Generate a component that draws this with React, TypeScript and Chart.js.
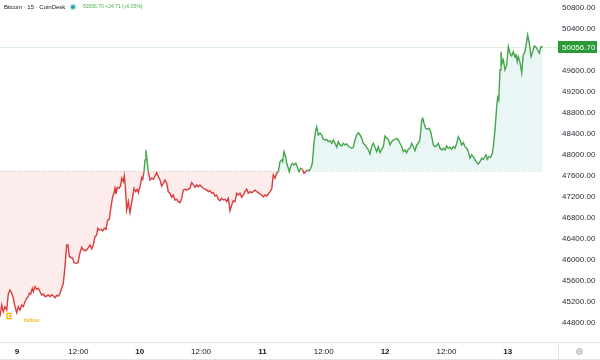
import { useEffect, useRef } from 'react';
import { Chart, registerables } from 'chart.js';

Chart.register(...registerables);

// Time of each 15-min bar, in hours from 9th 00:00
const hours: number[] = [
  -3.33, -2.99, -2.68, -2.35, -2.01, -1.70, -1.37, -1.04, -0.72, -0.39, -0.06,
  0.25, 0.59, 0.92, 1.23, 1.56, 1.90, 2.21, 2.41, 2.68, 2.99, 3.19, 3.52, 3.85, 4.17, 4.50, 4.83,
  5.14, 5.48, 5.81, 6.12, 6.45, 6.79, 7.10, 7.43, 7.77, 8.08, 8.41, 8.74, 9.06, 9.39, 9.72, 9.98,
  10.23, 10.50, 10.89, 11.15, 11.54, 11.93, 12.32, 12.66, 12.97, 13.30, 13.64, 13.95, 14.28, 14.61,
  14.92, 15.26, 15.59, 15.79, 16.10, 16.43, 16.76, 17.08, 17.41, 17.74, 18.05, 18.39, 18.72, 18.97,
  19.17, 19.36, 19.62, 19.95, 20.28, 20.48, 20.79, 20.99, 21.18, 21.46, 21.77, 22.10, 22.63, 22.89,
  23.22, 23.53, 23.73,
  24.06, 24.39, 24.59, 24.84, 25.04, 25.23, 25.49, 25.68, 26.01, 26.35, 26.66, 26.99, 27.33, 27.64,
  27.97, 28.30, 28.62, 28.95, 29.28, 29.59, 29.93, 30.26, 30.57, 30.90, 31.24, 31.55, 31.88, 32.22,
  32.53, 32.86, 33.19, 33.51, 33.84, 34.17, 34.49, 34.82, 35.15, 35.46, 35.79, 36.13, 36.44, 36.77,
  37.11, 37.42, 37.75, 38.08, 38.40, 38.73, 39.06, 39.37, 39.71, 40.04, 40.35, 40.68, 41.02, 41.33,
  41.66, 42.00, 42.31, 42.64, 42.97, 43.29, 43.62, 43.95, 44.26, 44.60, 44.93, 45.24, 45.57, 45.91,
  46.22, 46.55, 46.89, 47.20, 47.53, 47.86,
  48.18, 48.51, 48.84, 49.15, 49.49, 49.82, 50.13, 50.46, 50.80, 51.11, 51.44, 51.78, 51.97, 52.23,
  52.56, 52.75, 53.07, 53.26, 53.54, 53.85, 54.18, 54.52, 54.83, 55.16, 55.49, 55.81, 56.14, 56.47,
  56.78, 57.12, 57.45, 57.76, 58.09, 58.43, 58.62, 58.94, 59.27, 59.60, 59.91, 60.24, 60.58, 60.89,
  61.22, 61.56, 61.87, 62.20, 62.53, 62.85, 63.18, 63.51, 63.82, 64.16, 64.49, 64.80, 65.13, 65.47,
  65.78, 66.11, 66.44, 66.76, 67.09, 67.42, 67.74, 68.07, 68.40, 68.72, 69.05, 69.38, 69.69, 70.02,
  70.36, 70.67, 71.00, 71.34, 71.65,
  71.98, 72.31, 72.63, 72.96, 73.29, 73.60, 73.94, 74.27, 74.58, 74.91, 75.25, 75.56, 75.89, 76.22,
  76.54, 76.87, 77.20, 77.52, 77.85, 78.18, 78.49, 78.83, 79.16, 79.36, 79.61, 79.94, 80.26, 80.59,
  80.92, 81.12, 81.43, 81.76, 82.09, 82.41, 82.74, 83.07, 83.38, 83.72, 84.05, 84.36, 84.69, 85.03,
  85.34, 85.67, 86.01, 86.32, 86.65, 86.99, 87.30, 87.63, 87.96, 88.28, 88.61, 88.94, 89.26, 89.59,
  89.92, 90.23, 90.56, 90.90, 91.21, 91.54, 91.74, 91.99, 92.33, 92.66, 92.97, 93.17, 93.50, 93.83,
  94.03, 94.22, 94.48, 94.67, 94.87, 95.12, 95.45, 95.79,
  96.10, 96.43, 96.76, 97.08, 97.41, 97.60, 97.86, 98.06, 98.39, 98.72, 99.03, 99.36, 99.69, 99.89,
  100.21, 100.54, 100.87, 101.19, 101.52, 101.85, 102.16, 102.50, 102.83,
];

// Bitcoin price (USD) at each of those times
const prices: number[] = [
  44920, 45143, 45015, 45110, 45048, 45352, 45429, 45372, 45276, 45110, 44996,
  45110, 45048, 45143, 45110, 45206, 45271, 45301, 45366, 45352, 45461, 45396, 45492, 45442, 45461, 45396, 45333,
  45352, 45301, 45314, 45333, 45301, 45339, 45314, 45282, 45328, 45314, 45366, 45461, 45556, 45873, 46286, 46286,
  46063, 46052, 46033, 45949, 45937, 45949, 46139, 46242, 46191, 46177, 46191, 46234, 46286, 46210,
  46286, 46444, 46476, 46604, 46572, 46585, 46553, 46604, 46585, 46762, 46775, 47015, 47206, 47271,
  47366, 47257, 47385, 47366, 47415, 47557, 47492, 47606, 47410, 46953, 47111, 46901, 47206, 47366,
  47301, 47347, 47282,
  47396, 47568, 47537, 47682, 47905, 48096, 47842, 47682, 47524, 47557, 47537, 47600, 47663, 47587,
  47524, 47410, 47461, 47524, 47461, 47301, 47271, 47195, 47238, 47143, 47156, 47111, 47092, 47176,
  47334, 47347, 47334, 47347, 47366, 47473, 47429, 47385, 47429, 47396, 47429, 47396, 47366, 47347,
  47334, 47301, 47320, 47271, 47282, 47219, 47238, 47156, 47130, 47176, 47143, 47156, 47111, 47176,
  46939, 47048, 47130, 47111, 47271, 47238, 47271, 47195, 47238, 47301, 47347, 47271, 47301, 47282,
  47301, 47334, 47301, 47282, 47257, 47238,
  47206, 47238, 47219, 47257, 47301, 47347, 47619, 47557, 47652, 47682, 47873, 47905, 47873, 48063,
  47968, 47842, 47747, 47682, 47791, 47842, 47810, 47842, 47777, 47682, 47747, 47728, 47652, 47682,
  47715, 47696, 47747, 47842, 48223, 48477, 48539, 48381, 48414, 48381, 48299, 48286, 48299, 48254,
  48273, 48223, 48286, 48223, 48147, 48254, 48191, 48172, 48223, 48191, 48210, 48172, 48147, 48128,
  48147, 48286, 48381, 48425, 48381, 48318, 48223, 48191, 48147, 48096, 48019, 48158, 48223, 48147,
  48063, 48158, 48044, 48109, 48158,
  48362, 48318, 48299, 48191, 48254, 48286, 48299, 48318, 48286, 48223, 48158, 48063, 48096, 48044,
  48109, 48128, 48223, 48158, 48082, 48191, 48223, 48299, 48667, 48699, 48604, 48509, 48490, 48509,
  48444, 48349, 48191, 48158, 48172, 48223, 48128, 48096, 48128, 48096, 48172, 48128, 48147, 48109,
  48158, 48128, 48223, 48349, 48286, 48191, 48235, 48158, 48128, 48063, 47937, 48000, 47968, 47905,
  47854, 47829, 47873, 47937, 47918, 47968, 48000, 47918, 47968, 47957, 48033, 48158, 48477, 48920,
  49099, 49048, 49620, 49968, 49747, 49810, 49620, 49715,
  50063, 49938, 49886, 49968, 49861, 49924, 49778, 49873, 49759, 49568, 49905, 49968, 50159, 50286,
  50128, 49873, 49968, 50077, 50052, 50000, 49938, 50063, 50056.7,
];

const BASELINE = 47700;
const yTickValues: number[] = [50800, 50400, 49600, 49200, 48800, 48400, 48000, 47600, 47200, 46800, 46400, 46000, 45600, 45200, 44800];
const xTickHours: number[] = [0, 12, 24, 36, 48, 60, 72, 84, 96];
const xTickLabels: string[] = ['9', '12:00', '10', '12:00', '11', '12:00', '12', '12:00', '13'];
const TITLE = 'Bitcoin · 15 · CoinDesk';
const CHANGE_TEXT = '+24.71 (+0.05%)';

const FONT = "'Liberation Sans', Arial, sans-serif";
const GREEN = '#45a649';
const RED = '#dc3c3c';
const TEXT = '#2a2e39';

export default function App() {
  const ref = useRef<HTMLCanvasElement>(null);

  useEffect(() => {
    const last = prices[prices.length - 1];
    const noPad = (s: any) => { s.paddingTop = 0; s.paddingBottom = 0; s.paddingLeft = 0; s.paddingRight = 0; };
    const decor = {
      id: 'decor',
      beforeDatasetsDraw(chart: any) {
        const { ctx, chartArea: a, scales } = chart;
        const x = scales.x, y = scales.y;
        const lastX = x.getPixelForValue(hours[hours.length - 1]);
        ctx.save();
        const by = Math.round(y.getPixelForValue(BASELINE)) + 0.5;
        ctx.strokeStyle = 'rgba(150,150,150,0.45)';
        ctx.lineWidth = 1;
        ctx.setLineDash([1, 2]);
        ctx.beginPath(); ctx.moveTo(a.left, by); ctx.lineTo(lastX, by); ctx.stroke();
        ctx.setLineDash([]);
        const py = Math.round(y.getPixelForValue(last)) + 0.5;
        ctx.strokeStyle = 'rgba(76,175,80,0.18)';
        ctx.beginPath(); ctx.moveTo(a.left, py); ctx.lineTo(a.right, py); ctx.stroke();
        ctx.restore();
      },
      afterDraw(chart: any) {
        const { ctx, chartArea: a, scales } = chart;
        const y = scales.y;
        ctx.save();
        // price tag
        const py = Math.round(y.getPixelForValue(last));
        ctx.fillStyle = '#2b9a38';
        ctx.fillRect(a.right, py - 6, 39, 12);
        ctx.fillStyle = '#ffffff';
        ctx.font = `8px ${FONT}`;
        ctx.textBaseline = 'middle';
        ctx.textAlign = 'left';
        ctx.fillText(last.toFixed(2), a.right + 4, py + 0.5);
        // legend
        ctx.fillStyle = '#131722';
        ctx.font = `6px ${FONT}`;
        ctx.fillText(TITLE, 4, 7);
        ctx.fillStyle = 'rgba(38,166,154,0.25)';
        ctx.beginPath(); ctx.arc(73, 7, 3.5, 0, Math.PI * 2); ctx.fill();
        ctx.fillStyle = '#26a69a';
        ctx.beginPath(); ctx.arc(73, 7, 2, 0, Math.PI * 2); ctx.fill();
        ctx.fillStyle = '#4caf50';
        ctx.font = `5px ${FONT}`;
        ctx.fillText(`${last.toFixed(2)} ${CHANGE_TEXT}`, 83, 7);
        // watermark
        ctx.strokeStyle = '#f5b60f';
        ctx.lineWidth = 1.3;
        ctx.beginPath();
        ctx.moveTo(12, 313.5); ctx.lineTo(7, 313.5); ctx.lineTo(7, 318.5); ctx.lineTo(12, 318.5);
        ctx.stroke();
        ctx.fillStyle = '#f5b60f';
        ctx.fillRect(9, 315, 2.5, 2);
        ctx.font = `bold 4.5px ${FONT}`;
        ctx.fillText('Indices', 24, 320.5);
        // bottom frame
        ctx.strokeStyle = '#e0e3eb';
        ctx.lineWidth = 1;
        ctx.beginPath();
        ctx.moveTo(0, a.bottom + 0.5); ctx.lineTo(600, a.bottom + 0.5);
        ctx.moveTo(0, 359.5); ctx.lineTo(600, 359.5);
        ctx.moveTo(a.right + 0.5, a.bottom); ctx.lineTo(a.right + 0.5, 359);
        ctx.stroke();
        ctx.strokeStyle = '#9598a1';
        ctx.beginPath(); ctx.arc(579.5, 351.5, 2.8, 0, Math.PI * 2); ctx.stroke();
        ctx.beginPath(); ctx.arc(579.5, 351.5, 0.8, 0, Math.PI * 2); ctx.stroke();
        ctx.restore();
      },
    };

    const chart = new Chart(ref.current as HTMLCanvasElement, {
      type: 'line',
      data: {
        datasets: [
          {
            data: hours.map((h, i) => ({ x: h, y: prices[i] })),
            borderColor: GREEN,
            borderWidth: 1.4,
            pointRadius: 0,
            tension: 0,
            fill: {
              target: { value: BASELINE },
              above: 'rgba(38,166,154,0.10)',
              below: 'rgba(239,83,80,0.11)',
            },
            segment: {
              borderColor: (c: any) => ((c.p0.parsed.y + c.p1.parsed.y) / 2 >= BASELINE ? GREEN : RED),
            },
          } as any,
        ],
      },
      options: {
        animation: false,
        responsive: false,
        maintainAspectRatio: false,
        layout: { padding: 0 },
        plugins: { legend: { display: false }, tooltip: { enabled: false } },
        scales: {
          x: {
            type: 'linear',
            min: -3.325,
            max: 105.82,
            grid: { display: false, drawTicks: false },
            border: { display: false },
            afterBuildTicks: (s: any) => { s.ticks = xTickHours.map((v) => ({ value: v })); },
            afterFit: (s: any) => { s.height = 18; noPad(s); },
            ticks: {
              autoSkip: false,
              maxRotation: 0,
              padding: 5,
              color: '#131722',
              font: (c: any) => ({ family: FONT, size: 8, weight: /:/.test(xTickLabels[c.index] || '') ? 'normal' : 'bold' }),
              callback: (_v: any, i: number) => xTickLabels[i],
            },
          },
          y: {
            type: 'linear',
            position: 'right',
            min: 44438,
            max: 50952,
            grid: { display: false, drawTicks: false },
            border: { display: false },
            afterBuildTicks: (s: any) => { s.ticks = yTickValues.map((v) => ({ value: v })); },
            afterFit: (s: any) => { s.width = 42; noPad(s); },
            ticks: {
              autoSkip: false,
              padding: 4,
              color: TEXT,
              font: { family: FONT, size: 8 },
              callback: (v: any) => Number(v).toFixed(2),
            },
          },
        },
      } as any,
      plugins: [decor],
    });
    return () => chart.destroy();
  }, []);

  return (
    <div style={{ position: 'absolute', left: 0, top: 0, width: 600, height: 360, background: '#ffffff' }}>
      <canvas ref={ref} width={600} height={360} style={{ display: 'block', width: 600, height: 360 }} />
    </div>
  );
}
